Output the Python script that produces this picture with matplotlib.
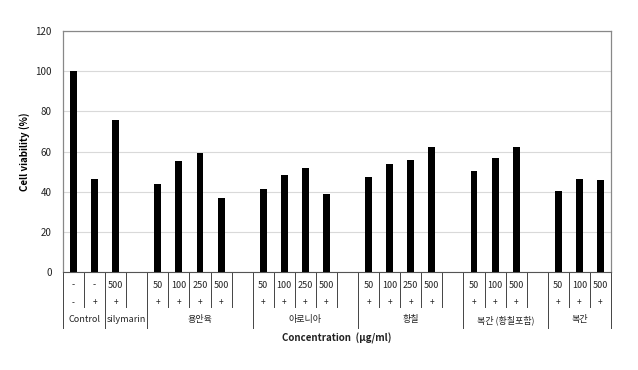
import numpy as np
import matplotlib.pyplot as plt
from matplotlib.transforms import blended_transform_factory

plt.rcParams['font.family'] = ['Noto Sans CJK KR', 'DejaVu Sans']

# one entry per slot along the x axis ('' = empty spacer slot)
conc_labels = ['-', '-', '500', '',
               '50', '100', '250', '500', '',
               '50', '100', '250', '500', '',
               '50', '100', '250', '500', '',
               '50', '100', '500', '',
               '50', '100', '500']
sign_labels = ['-', '+', '+', '',
               '+', '+', '+', '+', '',
               '+', '+', '+', '+', '',
               '+', '+', '+', '+', '',
               '+', '+', '+', '',
               '+', '+', '+']
viability = [100, 46.5, 75.5, None,
             43.6, 55.3, 59.5, 37.0, None,
             41.5, 48.3, 51.6, 39.0, None,
             47.3, 54.0, 55.6, 62.3, None,
             50.3, 57.0, 62.3, None,
             40.3, 46.3, 45.6]

group_names = ['Control', 'silymarin', '용안육', '아로니아', '황칠', '복간 (황칠포함)', '복간']
group_start = [0, 2, 4, 9, 14, 19, 23]
group_end = [2, 4, 9, 14, 19, 23, 26]

fig = plt.figure(figsize=(6.38, 3.70), dpi=100)
ax = fig.add_axes([63 / 638, 1 - 272 / 370, 548 / 638, 241 / 370])

n = len(conc_labels)
xs = [i + 0.5 for i in range(n) if viability[i] is not None]
hs = [v for v in viability if v is not None]
ax.bar(xs, hs, width=0.33, color='black', zorder=3)

ax.set_xlim(0, n)
ax.set_ylim(0, 120)
ax.set_yticks(range(0, 121, 20))
ax.yaxis.grid(True, color='#d9d9d9', linewidth=0.8, zorder=0)
ax.tick_params(axis='y', length=0, pad=8, labelsize=7, labelcolor='#222222')
ax.set_xticks([])
for side in ['top', 'right', 'left']:
    ax.spines[side].set_color('#888888')
    ax.spines[side].set_linewidth(0.9)
ax.spines['bottom'].set_color('#555555')

ax.set_ylabel('Cell viability (%)', fontsize=7, fontweight='bold', labelpad=4)

# table underneath the axis
tr = blended_transform_factory(ax.transData, ax.transAxes)
line_col = '#444444'
row_bottom = -0.145
group_bottom = -0.232
for i in range(n + 1):
    bottom = group_bottom if (i in group_start or i == n) else row_bottom
    ax.plot([i, i], [0, bottom], transform=tr, color=line_col,
            linewidth=0.7, clip_on=False)

for i in range(n):
    ax.text(i + 0.5, -0.054, conc_labels[i], transform=tr, ha='center',
            va='center', fontsize=6.5, color='#222222')
    ax.text(i + 0.5, -0.127, sign_labels[i], transform=tr, ha='center',
            va='center', fontsize=6, color='#222222')

for name, s, e in zip(group_names, group_start, group_end):
    ax.text((s + e) / 2, -0.199, name, transform=tr, ha='center',
            va='center', fontsize=6.5, color='#222222')

ax.text(n / 2, -0.274, 'Concentration  (μg/ml)', transform=tr, ha='center',
        va='center', fontsize=7, fontweight='bold', color='#222222')

fig.savefig('out.png', dpi=100)
